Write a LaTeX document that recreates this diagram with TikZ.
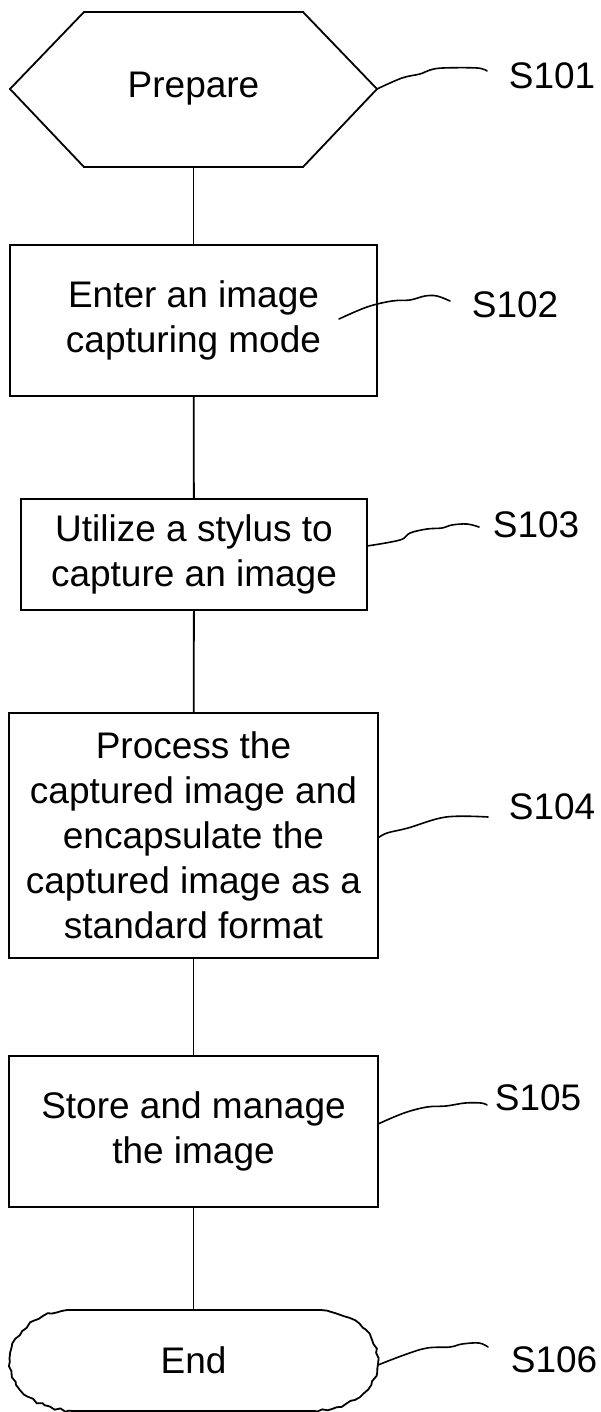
\documentclass[tikz,border=0pt]{standalone}
\usepackage{fontspec}
\setmainfont{Liberation Sans}
\usetikzlibrary{decorations.pathmorphing}
\begin{document}
\begin{tikzpicture}[x=1pt,y=-1pt,line width=1.8pt,
  every node/.style={font=\fontsize{37}{45}\selectfont, align=center, inner sep=0pt},
  box/.style={draw, rectangle, line width=1.8pt},
  conn/.style={line width=1.8pt},
  lead/.style={line width=1.6pt, line join=round, line cap=round},
  lbl/.style={anchor=west},
  wob/.style={decorate, decoration={random steps, segment length=5pt, amplitude=1.4pt}}]
\useasboundingbox (0,0) rectangle (601,1412);

% S101 hexagon
\draw[line join=miter] (84,12) -- (303,12) -- (377,89) -- (303,167) -- (84,167) -- (10,89) -- cycle;
\node (prep) at (193.5,89) {Prepare};
\coordinate (hexS) at (193.5,167);
\coordinate (hexE) at (377,89);

% boxes
\node[box, minimum width=367pt, minimum height=151pt] (s2) at (193.5,320.5) {Enter an image\\capturing mode};
\node[box, minimum width=346pt, minimum height=111pt] (s3) at (194,554.5) {Utilize a stylus to\\capture an image};
\node[box, minimum width=369pt, minimum height=245pt] (s4) at (193.5,835.5) {Process the\\captured image and\\encapsulate the\\captured image as a\\standard format};
\node[box, minimum width=369pt, minimum height=151pt] (s5) at (193.5,1131.5) {Store and manage\\the image};

% End terminator
\pgfmathsetseed{11}
\draw (67,1310) -- (321,1310);
\draw[wob] (321,1310) .. controls (358,1314) and (378,1338) .. (378,1362) .. controls (378,1386) and (356,1408) .. (315,1411);
\draw[wob] (67,1310) .. controls (30,1314) and (10,1338) .. (10,1362) .. controls (10,1386) and (32,1408) .. (73,1411);
\draw (73,1411) -- (315,1411);
\node (end) at (193.5,1360) {End};
\coordinate (endN) at (193.5,1310);
\coordinate (endE) at (378,1365);

% connectors
\draw[conn] (hexS) -- (s2);
\draw[conn] (s2) -- (s3);
\draw[conn] (s3) -- (s4);
\draw[conn] (s4) -- (s5);
\draw[conn] (s5) -- (endN);

% labels
\node[lbl] (l1) at (508,76) {S101};
\node[lbl] (l2) at (471,305) {S102};
\node[lbl] (l3) at (492,525) {S103};
\node[lbl] (l4) at (508,807) {S104};
\node[lbl] (l5) at (494,1098) {S105};
\node[lbl] (l6) at (510,1360) {S106};

% leader start points
\coordinate (s2l) at (339,319);
\coordinate (s3l) at (367,546);
\coordinate (s4l) at (378,838);
\coordinate (s5l) at (378,1124);

% leaders
\draw[lead] plot[smooth, tension=0.6] coordinates {(hexE) (402,78) (420,74) (430,70) (443,68) (477,68) (487,71)};
\draw[lead] plot[smooth, tension=0.6] coordinates {(s2l) (367,307) (392,301) (410,300) (425,296) (437,296) (450,301)};
\draw[lead] plot[smooth, tension=0.6] coordinates {(s3l) (400,540) (410,533) (427,529) (442,528) (452,525) (467,524) (479,527)};
\draw[lead] plot[smooth, tension=0.6] coordinates {(s4l) (387,833) (408,828) (446,817) (488,817)};
\draw[lead] plot[smooth, tension=0.6] coordinates {(s5l) (404,1113) (427,1107) (446,1106) (465,1103) (481,1103) (487,1105)};
\draw[lead] plot[smooth, tension=0.6] coordinates {(endE) (404,1355) (427,1348) (450,1347) (462,1344) (479,1343) (488,1347)};
\end{tikzpicture}
\end{document}
